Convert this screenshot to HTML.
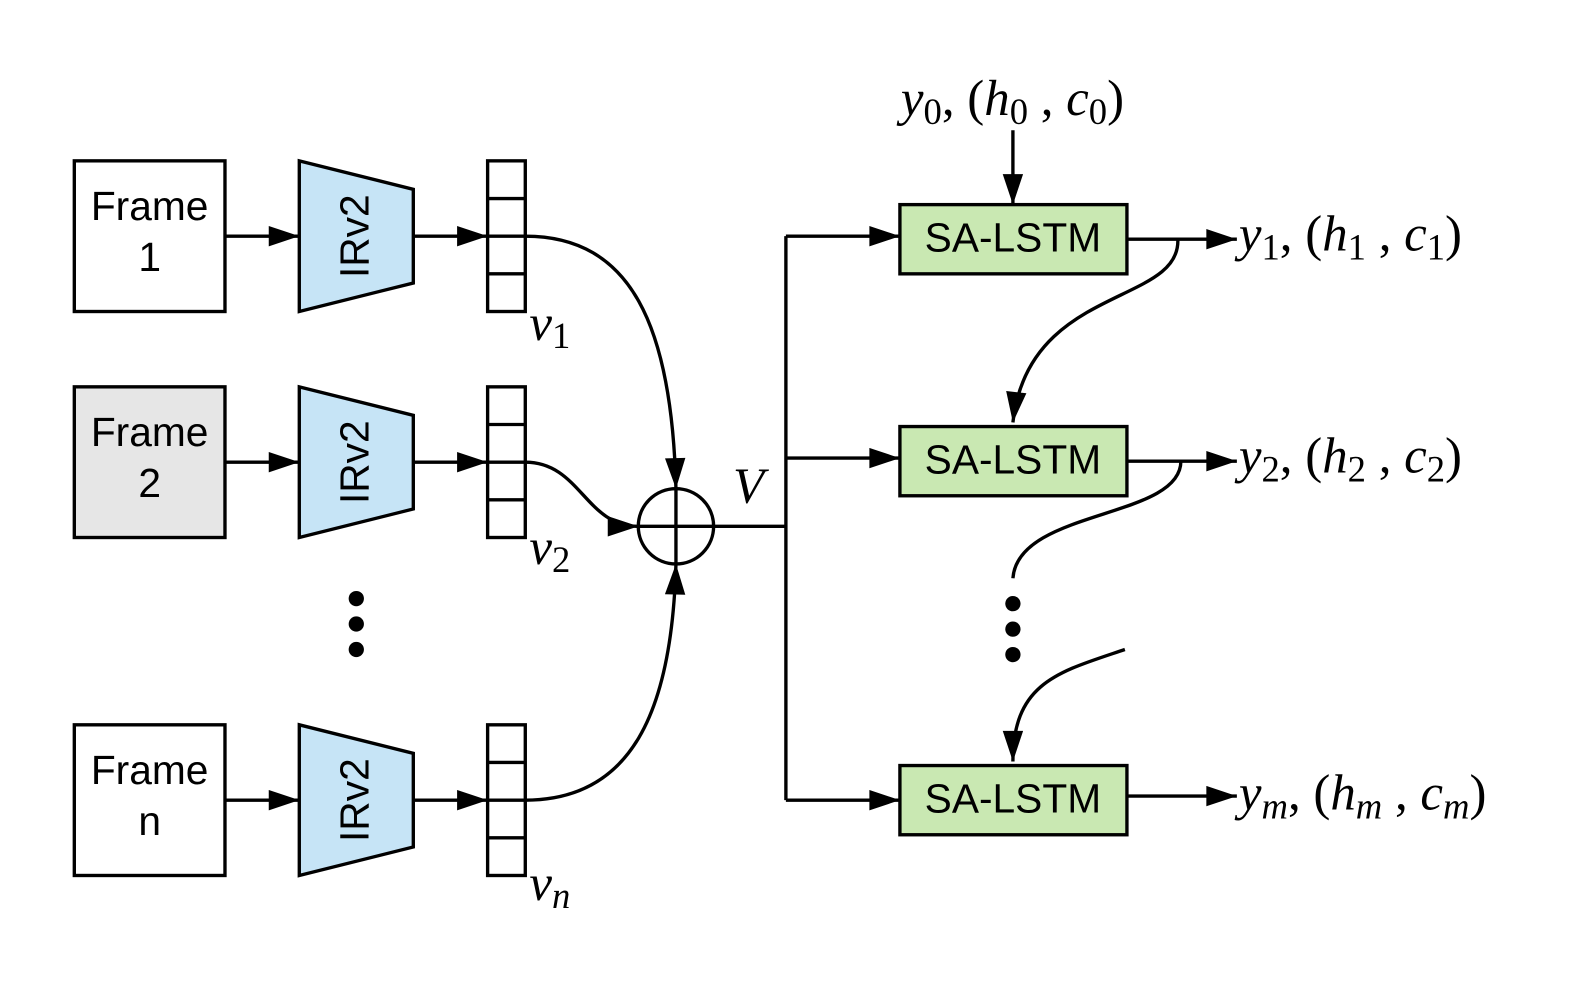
<!DOCTYPE html>
<html><head><meta charset="utf-8"><style>
html,body{margin:0;padding:0;background:#fff}
svg{display:block}
.t{font-family:"Liberation Sans",sans-serif;font-size:40px;fill:#000}
.m{font-family:"Liberation Serif",serif;font-size:50px;fill:#000}
.i{font-style:italic}
.s{font-size:36px;font-style:normal}
</style></head><body>
<svg width="1594" height="986" viewBox="0 0 1594 986" xmlns="http://www.w3.org/2000/svg">
<defs>
<marker id="a2" viewBox="0 0 30 20" refX="30" refY="10" markerWidth="31" markerHeight="20" markerUnits="userSpaceOnUse" orient="auto"><path d="M0,0 L30,10 L0,20 z" fill="#000"/></marker></defs>
<g transform="scale(1.018)">
<g stroke="#000" stroke-width="3.3" fill="none">
<rect x="73" y="158" width="148" height="148" fill="#fff"/>
<rect x="73" y="380" width="148" height="148" fill="#e6e6e6"/>
<rect x="73" y="712" width="148" height="148" fill="#fff"/>
<polygon points="294,158 406,186 406,278 294,306" fill="#c6e4f6"/>
<polygon points="294,380 406,408 406,500 294,528" fill="#c6e4f6"/>
<polygon points="294,712 406,740 406,832 294,860" fill="#c6e4f6"/>
<g><rect x="479" y="158" width="37" height="148"/><path d="M479,195H516M479,232H516M479,269H516"/></g>
<g><rect x="479" y="380" width="37" height="148"/><path d="M479,417H516M479,454H516M479,491H516"/></g>
<g><rect x="479" y="712" width="37" height="148"/><path d="M479,749H516M479,786H516M479,823H516"/></g>
<path d="M221,232H294" marker-end="url(#a2)"/><path d="M406,232H479" marker-end="url(#a2)"/>
<path d="M221,454H294" marker-end="url(#a2)"/><path d="M406,454H479" marker-end="url(#a2)"/>
<path d="M221,786H294" marker-end="url(#a2)"/><path d="M406,786H479" marker-end="url(#a2)"/>
<path d="M516,232 C620,232 660,320 664,480" marker-end="url(#a2)"/>
<path d="M516,454 C570,454 575,517 627,517" marker-end="url(#a2)"/>
<path d="M516,786 C620,786 660,700 664,554" marker-end="url(#a2)"/>
<g><circle cx="664" cy="517" r="37" fill="#fff"/><path d="M627,517H701M664,480V554"/></g>
<path d="M701,517H772M772,232V786"/>
<path d="M772,232H884" marker-end="url(#a2)"/>
<path d="M772,450H884" marker-end="url(#a2)"/>
<path d="M772,786H884" marker-end="url(#a2)"/>
<rect x="884" y="201" width="223" height="68" fill="#c9e8b2"/>
<rect x="884" y="419" width="223" height="68" fill="#c9e8b2"/>
<rect x="884" y="752" width="223" height="68" fill="#c9e8b2"/>
<path d="M995,128V201" marker-end="url(#a2)"/>
<path d="M1107,235H1215" marker-end="url(#a2)"/>
<path d="M1107,453H1215" marker-end="url(#a2)"/>
<path d="M1107,782H1215" marker-end="url(#a2)"/>
<path d="M1157,235 C1160,300 1010,280 995,415" marker-end="url(#a2)"/>
<path d="M1160,453 C1160,510 1000,500 995,568"/>
<path d="M1105,638 C1040,660 995,670 995,748" marker-end="url(#a2)"/>
</g>
<g fill="#000">
<circle cx="350" cy="588" r="7.5"/><circle cx="350" cy="613" r="7.5"/><circle cx="350" cy="638" r="7.5"/>
<circle cx="995" cy="593" r="7.5"/><circle cx="995" cy="618" r="7.5"/><circle cx="995" cy="643" r="7.5"/>
</g>
<g class="t" text-anchor="middle">
<text x="147" y="216">Frame</text><text x="147" y="266">1</text>
<text x="147" y="438">Frame</text><text x="147" y="488">2</text>
<text x="147" y="770">Frame</text><text x="147" y="820">n</text>
<text transform="translate(362,232) rotate(-90)">IRv2</text>
<text transform="translate(362,454) rotate(-90)">IRv2</text>
<text transform="translate(362,786) rotate(-90)">IRv2</text>
<text x="995" y="247">SA-LSTM</text>
<text x="995" y="465">SA-LSTM</text>
<text x="995" y="798">SA-LSTM</text>
</g>
<g class="m">
<text x="520" y="334" class="i">v<tspan class="s" dy="8">1</tspan></text>
<text x="520" y="554" class="i">v<tspan class="s" dy="8">2</tspan></text>
<text x="520" y="884" class="i">v<tspan class="s" dy="8" style="font-style:italic">n</tspan></text>
<text x="720" y="494" class="i">V</text>
<text x="885" y="113"><tspan class="i">y</tspan><tspan class="s" dy="9">0</tspan><tspan dy="-9">, (</tspan><tspan class="i">h</tspan><tspan class="s" dy="9">0</tspan><tspan dy="-9"> , </tspan><tspan class="i">c</tspan><tspan class="s" dy="9">0</tspan><tspan dy="-9">)</tspan></text>
<text x="1217" y="246"><tspan class="i">y</tspan><tspan class="s" dy="9">1</tspan><tspan dy="-9">, (</tspan><tspan class="i">h</tspan><tspan class="s" dy="9">1</tspan><tspan dy="-9"> , </tspan><tspan class="i">c</tspan><tspan class="s" dy="9">1</tspan><tspan dy="-9">)</tspan></text>
<text x="1217" y="464"><tspan class="i">y</tspan><tspan class="s" dy="9">2</tspan><tspan dy="-9">, (</tspan><tspan class="i">h</tspan><tspan class="s" dy="9">2</tspan><tspan dy="-9"> , </tspan><tspan class="i">c</tspan><tspan class="s" dy="9">2</tspan><tspan dy="-9">)</tspan></text>
<text x="1217" y="795"><tspan class="i">y</tspan><tspan class="s" style="font-style:italic" dy="9">m</tspan><tspan dy="-9">, (</tspan><tspan class="i">h</tspan><tspan class="s" style="font-style:italic" dy="9">m</tspan><tspan dy="-9"> , </tspan><tspan class="i">c</tspan><tspan class="s" style="font-style:italic" dy="9">m</tspan><tspan dy="-9">)</tspan></text>
</g>
</g>
</svg>
</body></html>
